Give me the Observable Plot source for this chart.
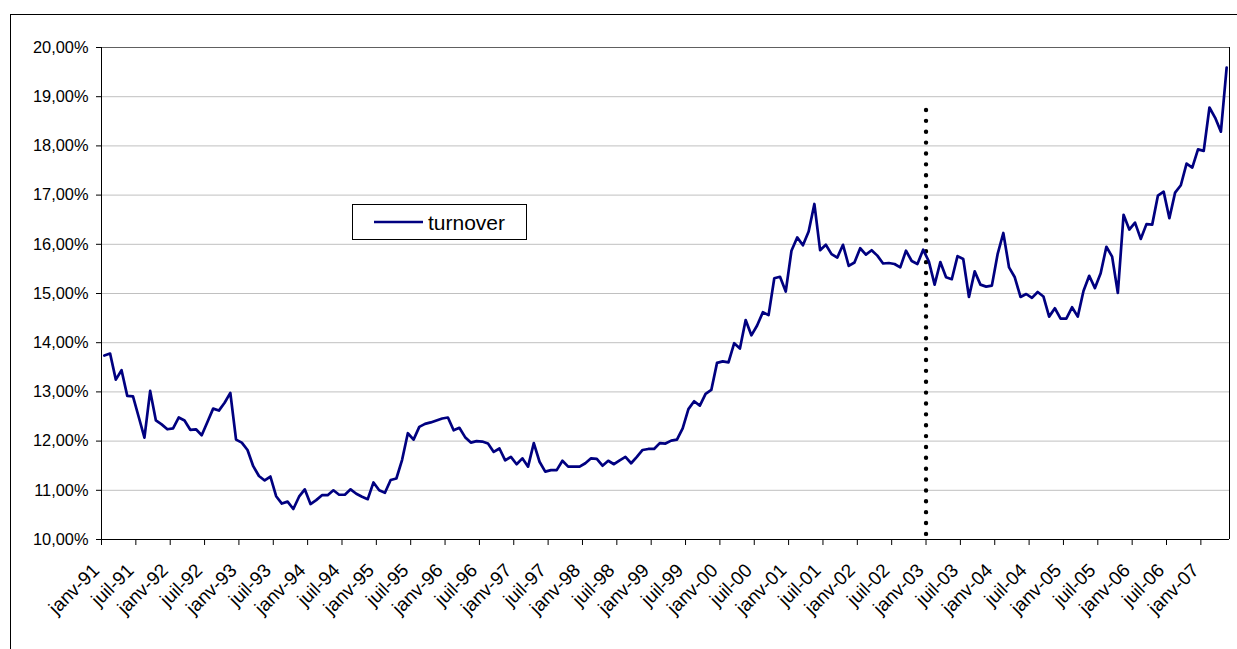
<!DOCTYPE html>
<html>
<head>
<meta charset="utf-8">
<script src="https://cdn.jsdelivr.net/npm/d3@7"></script>
<script src="https://cdn.jsdelivr.net/npm/@observablehq/plot@0.6"></script>
<style>
  html, body { margin: 0; padding: 0; background: #fff; }
  #wrap { position: relative; width: 1237px; height: 649px; overflow: hidden;
          font-family: "Liberation Sans", Arial, sans-serif; background: #fff; }
  #chart { position: absolute; left: 0; top: 0; }
  #border { position: absolute; left: 10px; top: 14px; width: 1300px; height: 700px;
            border-top: 1px solid #000; border-left: 1px solid #000; pointer-events: none; }
  #legend { position: absolute; left: 352px; top: 204px; width: 173px; height: 34px;
            border: 1px solid #000; background: #fff; display: flex; align-items: center; }
  #legend svg { margin-left: 21px; }
  #legend span { margin-left: 5px; font-size: 21px; color: #000; line-height: 1; }
</style>
</head>
<body>
<div id="wrap">
  <div id="chart"></div>
  <div id="legend">
    <svg width="49" height="6"><line x1="0" x2="49" y1="3" y2="3" stroke="#000080" stroke-width="2.6"/></svg>
    <span>turnover</span>
  </div>
  <div id="border"></div>
</div>
<script>
// Monthly turnover (%), janv-91 .. mai-07
const turnover = [
  13.74,13.78,13.25,13.44,12.92,12.91,12.49,12.07,13.02,12.42,12.34,12.24,
  12.26,12.48,12.42,12.23,12.24,12.12,12.39,12.66,12.62,12.78,12.98,12.03,
  11.97,11.82,11.49,11.29,11.20,11.28,10.88,10.73,10.77,10.62,10.87,11.02,
  10.72,10.80,10.90,10.90,11.00,10.91,10.91,11.02,10.93,10.87,10.82,11.16,
  11.00,10.95,11.21,11.24,11.62,12.16,12.03,12.29,12.35,12.38,12.42,12.46,
  12.48,12.22,12.27,12.08,11.97,12.00,11.99,11.95,11.78,11.85,11.61,11.68,
  11.53,11.65,11.48,11.96,11.58,11.38,11.41,11.41,11.60,11.48,11.48,11.48,
  11.55,11.65,11.64,11.50,11.60,11.53,11.61,11.68,11.55,11.68,11.82,11.84,
  11.84,11.96,11.95,12.01,12.03,12.26,12.65,12.81,12.72,12.96,13.04,13.59,
  13.62,13.60,13.99,13.88,14.46,14.15,14.35,14.62,14.56,15.31,15.34,15.04,
  15.87,16.14,15.98,16.26,16.82,15.88,15.99,15.80,15.73,15.99,15.56,15.63,
  15.92,15.79,15.88,15.77,15.61,15.62,15.60,15.53,15.87,15.66,15.60,15.89,
  15.65,15.18,15.64,15.33,15.29,15.76,15.70,14.93,15.45,15.18,15.14,15.16,
  15.80,16.23,15.53,15.33,14.93,14.99,14.91,15.03,14.94,14.53,14.70,14.49,
  14.49,14.72,14.53,15.05,15.36,15.11,15.41,15.95,15.75,15.01,16.60,16.30,
  16.44,16.11,16.41,16.40,16.99,17.07,16.53,17.05,17.20,17.64,17.56,17.93,
  17.90,18.78,18.57,18.29,19.59
];

const tickLabels = ["janv-91","juil-91","janv-92","juil-92","janv-93","juil-93",
  "janv-94","juil-94","janv-95","juil-95","janv-96","juil-96","janv-97","juil-97",
  "janv-98","juil-98","janv-99","juil-99","janv-00","juil-00","janv-01","juil-01",
  "janv-02","juil-02","janv-03","juil-03","janv-04","juil-04","janv-05","juil-05",
  "janv-06","juil-06","janv-07"];
const tickEvery = 6;          // one label every 6 months
const yTicks = [10,11,12,13,14,15,16,17,18,19,20];

// Vertical dotted marker (at janv-03)
const markerLabel = ["janv-03"];
const markerTop = [18.72];

const nMonths = turnover.length;
const data = turnover.map((v, i) => ({x: i + 0.5, v}));
const tickPos = tickLabels.map((d, k) => k * tickEvery);
const labelData = tickLabels.map((label, k) => ({label, x: k * tickEvery}));
const markers = markerLabel.map((m, j) => ({x: tickLabels.indexOf(m) * tickEvery, top: markerTop[j], bottom: yTicks[0]}));

const chart = Plot.plot({
  width: 1237,
  height: 649,
  marginLeft: 101,
  marginRight: 8,
  marginTop: 47,
  marginBottom: 110,
  style: {fontFamily: '"Liberation Sans", Arial, sans-serif', fontSize: "16.4px", color: "#000", background: "transparent", overflow: "visible"},
  x: {type: "linear", domain: [0, nMonths]},
  y: {domain: [yTicks[0], yTicks[yTicks.length - 1]]},
  marks: [
    Plot.gridY(yTicks.slice(1, -1), {stroke: "#c0c0c0", strokeOpacity: 1, strokeWidth: 1}),
    Plot.ruleY([yTicks[yTicks.length - 1]], {stroke: "#606060", strokeWidth: 1}),
    Plot.ruleX([nMonths], {stroke: "#000", strokeWidth: 1}),
    Plot.axisY({ticks: yTicks, tickSize: 5, tickPadding: 8, label: null, fontSize: 16.4,
      tickFormat: d => d.toFixed(2).replace(".", ",") + "%"}),
    Plot.axisX({ticks: tickPos, tickSize: 6, label: null, tickFormat: () => ""}),
    Plot.text(labelData, {x: "x", text: "label", frameAnchor: "bottom", rotate: -45,
      textAnchor: "end", dx: -1, dy: 32, fontSize: 19, fill: "#000"}),
    Plot.ruleX(markers, {x: "x", y1: "top", y2: "bottom", stroke: "#000", strokeWidth: 4.4,
      strokeDasharray: "0 10.87", strokeLinecap: "round"}),
    Plot.line(data, {x: "x", y: "v", stroke: "#000080", strokeWidth: 2.7, strokeLinejoin: "round"}),
    Plot.ruleX([0], {stroke: "#000", strokeWidth: 1}),
    Plot.ruleY([yTicks[0]], {stroke: "#000", strokeWidth: 1})
  ]
});
document.getElementById("chart").appendChild(chart);
</script>
</body>
</html>
